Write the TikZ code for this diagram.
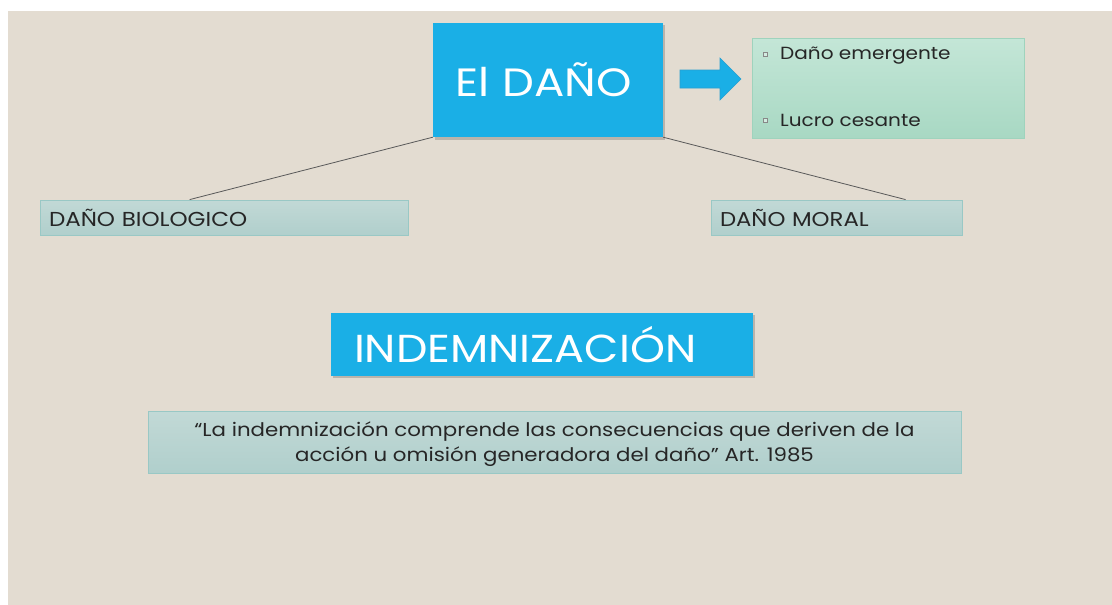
\documentclass[tikz,border=0pt]{standalone}
\usepackage{fontspec}
\setmainfont{Poppins}[FakeStretch=1.14]
\usetikzlibrary{calc}
\definecolor{bgbeige}{HTML}{E3DCD1}
\definecolor{skyblue}{HTML}{1AAFE6}
\definecolor{skyedge}{HTML}{2A9FD0}
\definecolor{mintfill}{HTML}{B5E0CD}
\definecolor{mintbot}{HTML}{A8D8C3}
\definecolor{mintedge}{HTML}{9FD3BD}
\definecolor{tealtop}{HTML}{C2D9D6}
\definecolor{tealbot}{HTML}{B0CFCC}
\definecolor{tealedge}{HTML}{99C8C5}
\definecolor{inkdark}{HTML}{262626}
\tikzset{
  bluebox/.style={rectangle, fill=skyblue, draw=none, text=white, inner sep=0pt},
  tealbox/.style={rectangle, top color=tealtop, bottom color=tealbot, draw=tealedge, line width=0.8pt, text=inkdark, inner ysep=0pt},
  minttext/.style={anchor=west, text=inkdark, font=\fontsize{17.6}{20}\selectfont, inner sep=0pt},
  bulletbox/.style={rectangle, fill=mintfill!60!white, draw=inkdark!55, line width=0.5pt, minimum size=4pt, inner sep=0pt},
  link/.style={draw=black!65, line width=0.8pt},
  shadowfill/.style={fill=black, opacity=0.18}
}
\begin{document}
\begin{tikzpicture}[x=1pt,y=-1pt]
\useasboundingbox (0,0) rectangle (1112,605);
\fill[white] (0,0) rectangle (1112,605);
\fill[bgbeige] (8,11) rectangle (1112,605);

% shadows
\fill[shadowfill] (435,25) rectangle (665,140);
\fill[shadowfill] (333,315) rectangle (755,378);

\node[bluebox, minimum width=230pt, minimum height=114pt, text width=206pt, align=left, inner xsep=12pt, font=\fontsize{39.5}{44}\selectfont] (dano) at (548,80) {\hspace{10pt}El DAÑO};

\fill[skyblue, draw=skyedge, line width=0.6pt] (680,70) -- (720,70) -- (720,58) -- (741,79) -- (720,100) -- (720,88) -- (680,88) -- cycle;

\node[rectangle, top color=mintfill!80!white, bottom color=mintbot, draw=mintedge, line width=0.8pt, minimum width=272pt, minimum height=100pt] (effects) at (888,88) {};
\node[bulletbox] (b1) at (765,54) {};
\node[minttext] (em) at (780,55.5) {Daño emergente};
\node[bulletbox] (b2) at (765,120) {};
\node[minttext] (lc) at (780,120.5) {Lucro cesante};

\node[tealbox, minimum width=368pt, minimum height=35pt, text width=350pt, align=left, inner xsep=9pt, font=\fontsize{20.2}{22}\selectfont] (bio) at (224,217.5) {DAÑO BIOLOGICO};
\node[tealbox, minimum width=251pt, minimum height=35pt, text width=233pt, align=left, inner xsep=9pt, font=\fontsize{20}{22}\selectfont] (moral) at (836.5,217.5) {DAÑO MORAL};

\draw[link] (dano.south west) -- ($(bio.north west)+(150,0)$);
\draw[link] (dano.south east) -- ($(moral.north west)+(195,0)$);

\node[bluebox, minimum width=422pt, minimum height=63pt, text width=376pt, align=left, inner xsep=23pt, font=\fontsize{39}{42}\selectfont] (indem) at (542,344.5) {INDEMNIZACIÓN};

\node[tealbox, minimum width=813pt, minimum height=62pt] (quote) at (554.5,442) {};
\node[align=center, text=inkdark, inner sep=0pt, font=\fontsize{18.7}{25}\selectfont] (quotetext) at ($(quote.center)+(0,2)$) {“La indemnización comprende las consecuencias que deriven de la\\ acción u omisión generadora del daño” Art. 1985};
\end{tikzpicture}
\end{document}
